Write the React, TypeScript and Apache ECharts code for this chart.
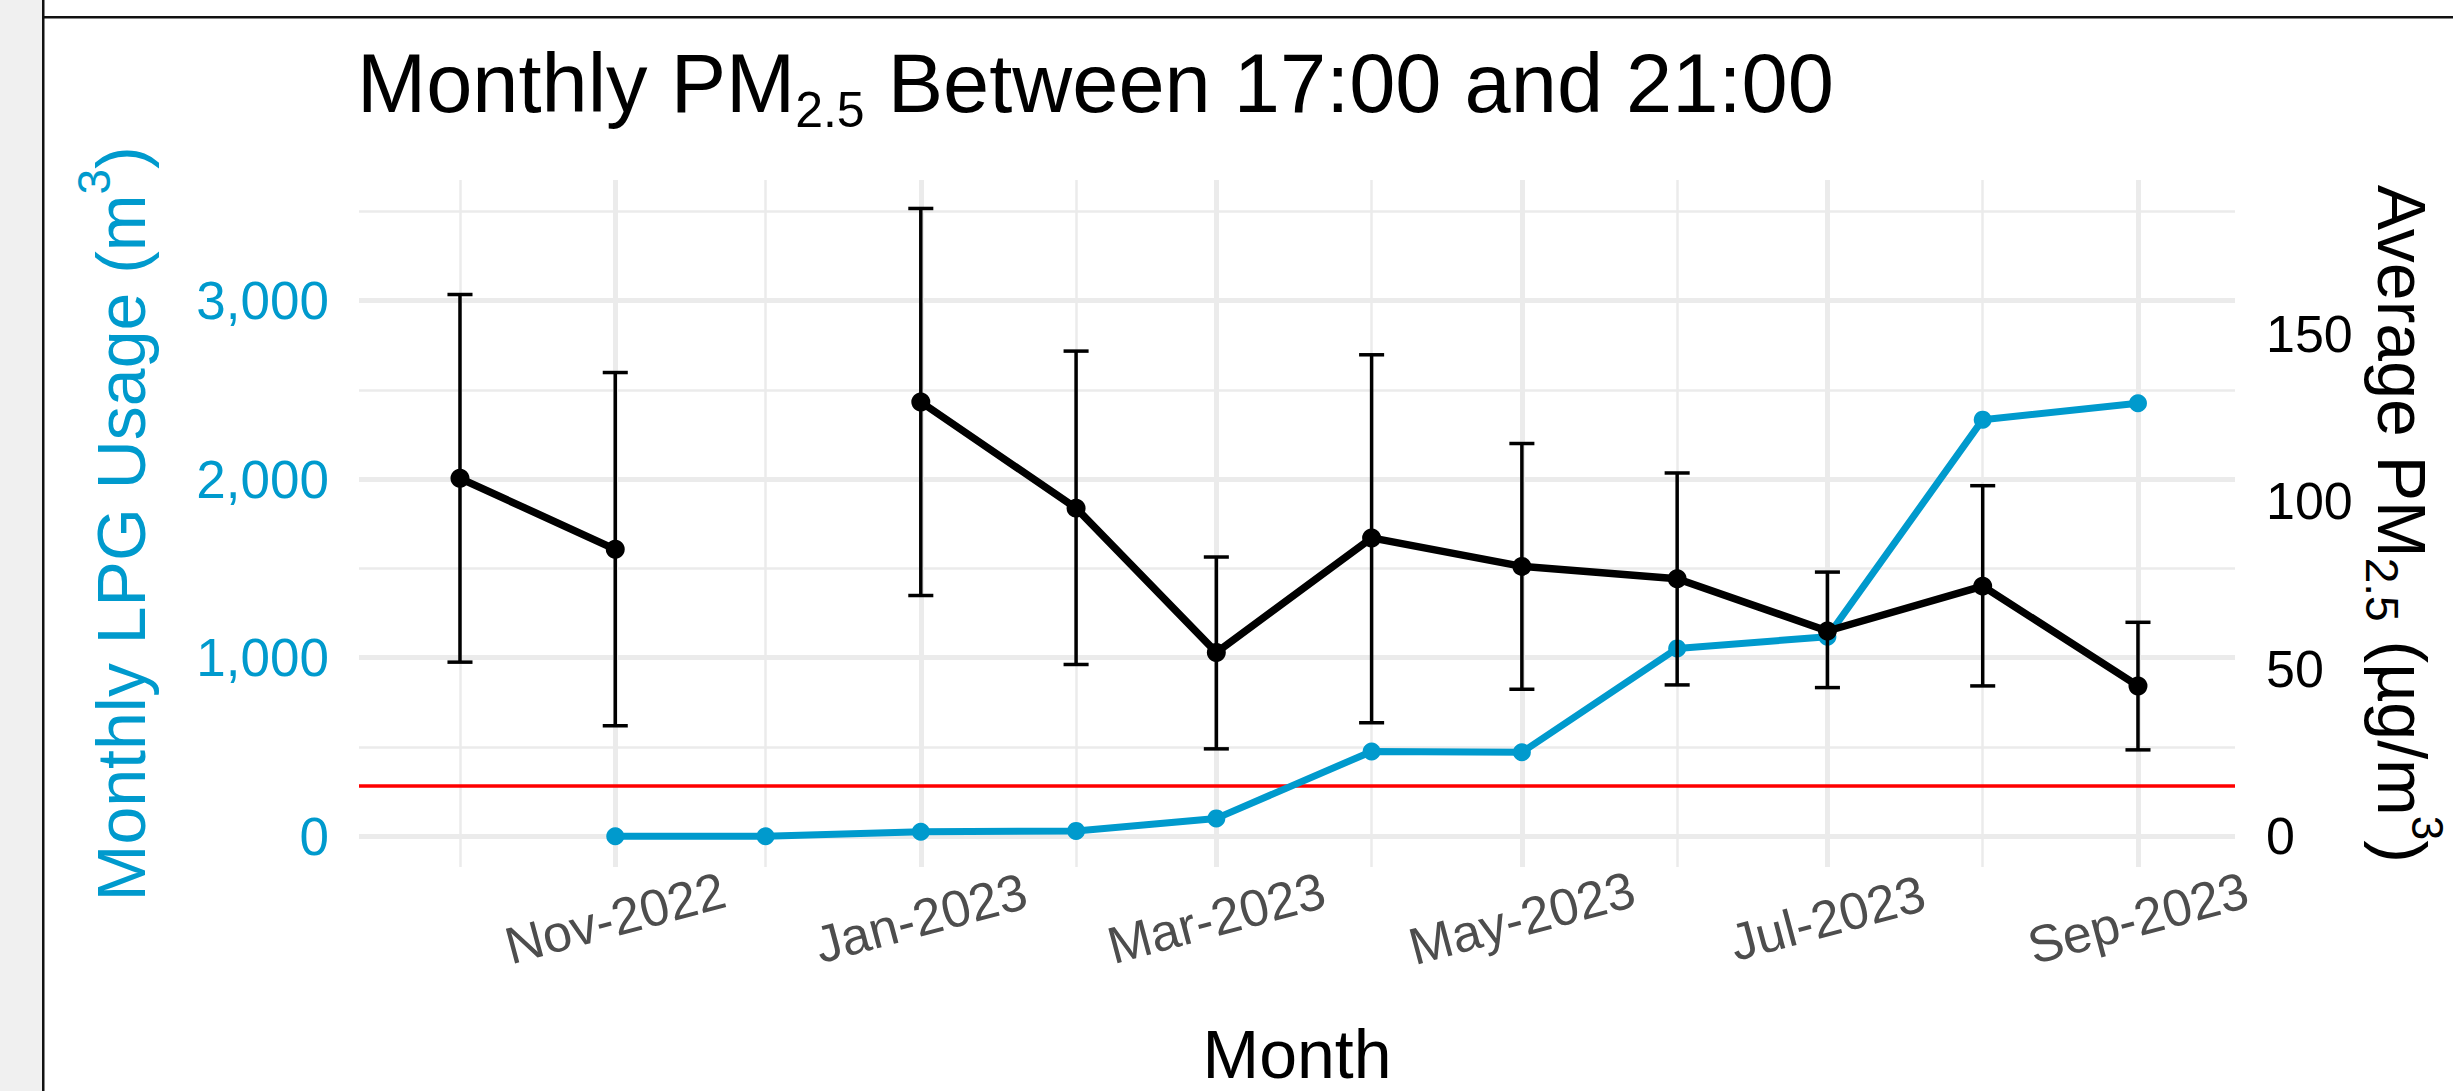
import React, { useEffect, useRef } from 'react';
import * as echarts from 'echarts';

// ---------------- data ----------------
const months = ['2022-10', '2022-11', '2022-12', '2023-01', '2023-02', '2023-03', '2023-04', '2023-05', '2023-06', '2023-07', '2023-08', '2023-09'];
const pmMean = [106.9, 85.7, null, 129.7, 98.0, 54.9, 89.1, 80.6, 76.9, 61.3, 74.7, 44.9];
const pmLow = [52.0, 33.0, null, 71.9, 51.3, 26.1, 33.9, 43.9, 45.2, 44.4, 44.9, 25.8];
const pmHigh = [161.8, 138.5, null, 187.5, 144.9, 83.4, 143.8, 117.3, 108.5, 78.9, 104.7, 63.9];
const lpgUsage = [null, 0, 0, 25, 30, 100, 475, 470, 1052, 1117, 2333, 2425];
const xTickLabels = ['Nov-2022', 'Jan-2023', 'Mar-2023', 'May-2023', 'Jul-2023', 'Sep-2023'];
const lpgTicks = [0, 1000, 2000, 3000];
const pmTicks = [0, 50, 100, 150];
const pmGuideline = 15;
const lpgPerPm = 18.75;
const lpgMax = 3500;
const MONTH_ABBR = ['Jan', 'Feb', 'Mar', 'Apr', 'May', 'Jun', 'Jul', 'Aug', 'Sep', 'Oct', 'Nov', 'Dec'];

// ---------------- helpers ----------------
const DAY = 86400000;
const toTime = (m: string) => {
  const [y, mo] = m.split('-').map(Number);
  return new Date(y, mo - 1, 1).getTime();
};
const fmtMonth = (t: number) => {
  const d = new Date(t);
  return `${MONTH_ABBR[d.getMonth()]}-${d.getFullYear()}`;
};
const xMin = toTime(months[0]) - 20.16 * DAY;
const xMax = toTime(months[months.length - 1]) + 19.37 * DAY;
const capHalf = 2.5 * DAY;

const FONT = "'Liberation Sans', Arial, Helvetica, sans-serif";
const BLUE = '#009ACD';
const GRID = '#EBEBEB';

// layout
const W = 2453;
const H = 1091;
const panelLeft = 359;
const panelRight = 2235;
const panelTop = 180;
const panelBottom = 867;
const zeroY = 836.25;
const pxPer1000 = 178.57;
const gridBTop = zeroY - (lpgMax / 1000) * pxPer1000;

function buildOption(): any {
  const lpgData = months
    .map((m, i) => (lpgUsage[i] == null ? null : [toTime(m), lpgUsage[i]]))
    .filter((d) => d != null);
  const pmData = months.map((m, i) => [toTime(m), pmMean[i]]);
  const errData = months
    .map((m, i) => (pmLow[i] == null ? null : [toTime(m), pmLow[i], pmHigh[i]]))
    .filter((d) => d != null);

  const vLines = months.map((m) => ({
    xAxis: toTime(m),
    lineStyle: { color: GRID, width: xTickLabels.includes(fmtMonth(toTime(m))) ? 5 : 2.5, type: 'solid' },
  }));
  const hMajor = lpgTicks.map((v) => ({ yAxis: v, lineStyle: { color: GRID, width: 5, type: 'solid' } }));

  const markBase = {
    silent: true,
    symbol: ['none', 'none'],
    label: { show: false },
    emphasis: { disabled: true },
    animation: false,
  };

  const txt = (size: number, color: string, extra: any = {}) => ({
    fontSize: size,
    lineHeight: size,
    color,
    fontFamily: FONT,
    fontWeight: 'normal',
    verticalAlign: 'middle',
    ...extra,
  });

  return {
    animation: false,
    backgroundColor: '#ffffff',
    textStyle: { fontFamily: FONT },
    title: {
      text: '{m|Monthly PM}{sub|2.5}{m| Between 17:00 and 21:00}',
      left: 357,
      top: 42,
      padding: 0,
      textStyle: {
        fontFamily: FONT,
        fontWeight: 'normal',
        color: '#000',
        rich: {
          m: txt(83, '#000'),
          sub: txt(50, '#000', { padding: [52, 0, 0, 0] }),
        },
      },
    },
    graphic: [
      { type: 'rect', silent: true, shape: { x: 0, y: 0, width: 42, height: H }, style: { fill: '#F0F0F0' } },
      { type: 'rect', silent: true, shape: { x: 42, y: 0, width: 2.5, height: H }, style: { fill: '#111' } },
      { type: 'rect', silent: true, shape: { x: 42, y: 16, width: W - 42, height: 2.5 }, style: { fill: '#111' } },
    ],
    grid: [
      { left: panelLeft, right: W - panelRight, top: panelTop, bottom: H - panelBottom, outerBoundsMode: 'none', containLabel: false },
      { left: panelLeft, right: W - panelRight, top: gridBTop, bottom: H - zeroY, outerBoundsMode: 'none', containLabel: false },
    ],
    xAxis: [
      {
        gridIndex: 0,
        type: 'time',
        min: xMin,
        max: xMax,
        splitNumber: 12,
        maxInterval: 31 * DAY,
        axisLine: { show: false },
        axisTick: { show: false },
        splitLine: { show: false },
        minorTick: { show: false },
        minorSplitLine: { show: false },
        axisLabel: {
          formatter: (v: number) => {
            const d = new Date(v);
            const s = fmtMonth(v);
            return d.getDate() === 1 && xTickLabels.includes(s) ? s : '';
          },
          rotate: 15,
          align: 'center',
          verticalAlign: 'middle',
          margin: 51,
          fontSize: 52,
          fontWeight: 'normal',
          color: '#4D4D4D',
          fontFamily: FONT,
          hideOverlap: false,
        },
        name: 'Month',
        nameLocation: 'middle',
        nameGap: 153,
        nameMoveOverlap: false,
        nameTextStyle: { fontSize: 68, lineHeight: 68, color: '#000', fontFamily: FONT, fontWeight: 'normal' },
      },
      { gridIndex: 1, type: 'time', min: xMin, max: xMax, show: false },
    ],
    yAxis: [
      { gridIndex: 0, type: 'value', min: 0, max: 1, show: false },
      {
        gridIndex: 1,
        type: 'value',
        position: 'left',
        min: 0,
        max: lpgMax,
        interval: 500,
        axisLine: { show: false },
        axisTick: { show: false },
        splitLine: { show: true, lineStyle: { color: GRID, width: 2.5 } },
        axisLabel: {
          formatter: (v: number) => (lpgTicks.includes(v) ? v.toLocaleString('en-US') : ''),
          color: BLUE,
          fontSize: 53,
          fontFamily: FONT,
          margin: 30,
        },
        name: '{m|Monthly LPG Usage (m}{sup|3}{m|)}',
        nameLocation: 'middle',
        nameRotate: 90,
        nameGap: 204,
        nameMoveOverlap: false,
        nameTextStyle: {
          color: BLUE,
          fontFamily: FONT,
          fontSize: 68,
          rich: {
            m: txt(68, BLUE),
            sup: txt(46, BLUE, { padding: [0, 0, 54, 0] }),
          },
        },
      },
      {
        gridIndex: 1,
        type: 'value',
        position: 'right',
        min: 0,
        max: lpgMax / lpgPerPm,
        interval: 50,
        axisLine: { show: false },
        axisTick: { show: false },
        splitLine: { show: false },
        axisLabel: {
          formatter: (v: number) => (pmTicks.includes(v) ? String(v) : ''),
          color: '#000',
          fontSize: 52,
          fontFamily: FONT,
          margin: 31,
          showMaxLabel: false,
        },
        name: '{m|Average PM}{sub|2.5}{m| (µg/m}{sup|3}{m|)}',
        nameLocation: 'middle',
        nameRotate: -90,
        nameGap: 133,
        nameMoveOverlap: false,
        nameTextStyle: {
          color: '#000',
          fontFamily: FONT,
          fontSize: 68,
          rich: {
            m: txt(68, '#000'),
            sub: txt(46, '#000', { padding: [41, 0, 0, 0] }),
            sup: txt(44, '#000', { padding: [0, 0, 50, 0] }),
          },
        },
      },
    ],
    series: [
      {
        id: 'vgrid',
        type: 'line',
        xAxisIndex: 0,
        yAxisIndex: 0,
        data: [],
        silent: true,
        z: 1,
        markLine: { ...markBase, z: 1, data: vLines },
      },
      {
        id: 'hgrid',
        type: 'line',
        xAxisIndex: 1,
        yAxisIndex: 1,
        data: [],
        silent: true,
        z: 1,
        markLine: { ...markBase, z: 1, data: hMajor },
      },
      {
        id: 'guideline',
        type: 'line',
        xAxisIndex: 1,
        yAxisIndex: 2,
        data: [],
        silent: true,
        z: 2,
        markLine: {
          ...markBase,
          z: 2,
          data: [{ yAxis: pmGuideline }],
          lineStyle: { color: '#FF0000', width: 3.5, type: 'solid' },
        },
      },
      {
        id: 'lpg',
        name: 'Monthly LPG Usage',
        type: 'line',
        xAxisIndex: 1,
        yAxisIndex: 1,
        data: lpgData,
        symbol: 'circle',
        symbolSize: 18,
        showSymbol: true,
        clip: false,
        lineStyle: { color: BLUE, width: 7 },
        itemStyle: { color: BLUE },
        emphasis: { disabled: true },
        z: 3,
      },
      {
        id: 'pmerr',
        type: 'custom',
        xAxisIndex: 1,
        yAxisIndex: 2,
        data: errData,
        encode: { x: 0, y: [1, 2] },
        clip: false,
        z: 4,
        renderItem: (params: any, api: any) => {
          const t = api.value(0);
          const lo = api.value(1);
          const hi = api.value(2);
          const top = api.coord([t, hi]);
          const bot = api.coord([t, lo]);
          const l = api.coord([t - capHalf, hi])[0];
          const r = api.coord([t + capHalf, hi])[0];
          const style = { stroke: '#000', lineWidth: 3.5, fill: null };
          return {
            type: 'group',
            children: [
              { type: 'line', shape: { x1: top[0], y1: top[1], x2: bot[0], y2: bot[1] }, style },
              { type: 'line', shape: { x1: l, y1: top[1], x2: r, y2: top[1] }, style },
              { type: 'line', shape: { x1: l, y1: bot[1], x2: r, y2: bot[1] }, style },
            ],
          };
        },
      },
      {
        id: 'pm',
        name: 'Average PM2.5',
        type: 'line',
        xAxisIndex: 1,
        yAxisIndex: 2,
        data: pmData,
        connectNulls: false,
        symbol: 'circle',
        symbolSize: 19,
        showSymbol: true,
        clip: false,
        lineStyle: { color: '#000', width: 7.5 },
        itemStyle: { color: '#000' },
        emphasis: { disabled: true },
        z: 5,
      },
    ],
  };
}

export default function App() {
  const ref = useRef<HTMLDivElement>(null);
  useEffect(() => {
    document.body.style.margin = '0';
    const chart = echarts.init(ref.current as HTMLDivElement, null, { renderer: 'svg' });
    chart.setOption(buildOption());
    return () => {
      chart.dispose();
    };
  }, []);
  return (
    <div
      ref={ref}
      style={{ position: 'absolute', left: 0, top: 0, width: W, height: H, background: '#fff' }}
    />
  );
}
